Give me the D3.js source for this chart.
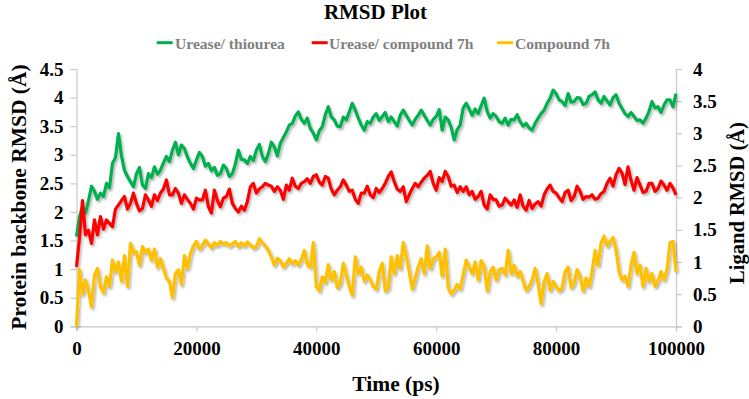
<!DOCTYPE html>
<html>
<head>
<meta charset="utf-8">
<script src="https://cdn.jsdelivr.net/npm/d3@7"></script>
<style>
  html, body { margin: 0; padding: 0; background: #fff; }
  svg { display: block; }
  text { font-family: "Liberation Serif", "Times New Roman", Times, serif; }
</style>
</head>
<body>
<div id="chart"></div>
<script>
// ---------- data ----------
const title = "RMSD Plot";
const xTitle = "Time (ps)";
const yLeftTitle = "Protein backbone RMSD (Å)";
const yRightTitle = "Ligand RMSD (Å)";
const seriesNames = ["Urease/ thiourea", "Urease/ compound 7h", "Compound 7h"];
const seriesColors = ["#00b050", "#ff0000", "#ffc000"];
const seriesAxis = ["left", "left", "right"];

const timeStep = 500; // ps between samples
const xTicks = [0, 20000, 40000, 60000, 80000, 100000];
const yLeftTicks = [0, 0.5, 1, 1.5, 2, 2.5, 3, 3.5, 4, 4.5];
const yRightTicks = [0, 0.5, 1, 1.5, 2, 2.5, 3, 3.5, 4];

// protein backbone RMSD, urease/thiourea (left axis)
const ureaseThiourea = [
  1.57, 1.92, 2.09, 1.98, 2.20, 2.45, 2.36, 2.22, 2.33, 2.27,
  2.50, 2.42, 2.85, 2.95, 3.37, 2.98, 2.73, 2.62, 2.53, 2.44,
  2.67, 2.78, 2.47, 2.41, 2.67, 2.60, 2.79, 2.66, 2.73, 2.86,
  2.97, 2.88, 3.08, 3.22, 3.00, 3.17, 3.11, 2.96, 2.85, 2.76,
  2.91, 3.04, 2.97, 2.80, 2.85, 2.72, 2.78, 2.64, 2.67, 2.82,
  2.76, 2.62, 2.67, 2.84, 3.08, 2.92, 2.91, 2.85, 2.97, 2.90,
  3.08, 3.18, 2.97, 2.88, 3.02, 3.22, 3.14, 2.98, 3.20, 3.30,
  3.40, 3.52, 3.55, 3.68, 3.75, 3.62, 3.55, 3.64, 3.46, 3.38,
  3.26, 3.42, 3.49, 3.70, 3.84, 3.66, 3.61, 3.50, 3.49, 3.66,
  3.61, 3.75, 3.90, 3.78, 3.64, 3.52, 3.43, 3.58, 3.55, 3.66,
  3.72, 3.60, 3.67, 3.74, 3.58, 3.66, 3.58, 3.50, 3.69, 3.78,
  3.69, 3.60, 3.52, 3.62, 3.69, 3.78, 3.69, 3.60, 3.52, 3.62,
  3.67, 3.79, 3.43, 3.66, 3.61, 3.48, 3.26, 3.44, 3.52, 3.82,
  3.90, 3.80, 3.69, 3.80, 3.72, 3.86, 3.99, 3.76, 3.64, 3.72,
  3.67, 3.58, 3.55, 3.64, 3.52, 3.62, 3.61, 3.70, 3.58, 3.50,
  3.55, 3.47, 3.43, 3.55, 3.64, 3.72, 3.78, 3.90, 3.99, 4.13,
  4.07, 3.96, 3.93, 3.86, 4.07, 3.92, 3.93, 4.00, 3.99, 3.88,
  3.90, 4.02, 4.05, 4.10, 3.96, 3.90, 4.02, 3.94, 3.87, 4.00,
  4.05, 3.90, 3.81, 3.72, 3.67, 3.74, 3.67, 3.60, 3.61, 3.55,
  3.64, 3.76, 3.93, 3.82, 3.84, 3.74, 3.87, 3.96, 3.96, 3.84,
  4.07
];
// protein backbone RMSD, urease/compound 7h (left axis)
const ureaseCompound7h = [
  1.04, 1.55, 2.20, 1.60, 1.68, 1.45, 1.86, 1.60, 1.92, 1.70,
  1.86, 1.80, 1.74, 2.05, 2.12, 2.20, 2.27, 2.05, 2.15, 2.33,
  2.15, 2.02, 2.06, 2.30, 2.21, 2.10, 2.30, 2.20, 2.33, 2.40,
  2.56, 2.30, 2.30, 2.41, 2.33, 2.15, 2.30, 2.22, 2.15, 2.05,
  2.24, 2.21, 2.21, 2.38, 2.09, 1.98, 2.38, 2.20, 2.09, 2.24,
  2.27, 2.40, 2.15, 2.06, 2.00, 2.10, 2.03, 2.18, 2.44, 2.50,
  2.33, 2.40, 2.44, 2.50, 2.47, 2.45, 2.36, 2.44, 2.38, 2.22,
  2.47, 2.38, 2.59, 2.45, 2.41, 2.50, 2.53, 2.58, 2.50, 2.62,
  2.65, 2.52, 2.47, 2.62, 2.59, 2.40, 2.30, 2.38, 2.44, 2.56,
  2.47, 2.36, 2.38, 2.22, 2.15, 2.33, 2.33, 2.45, 2.30, 2.25,
  2.41, 2.34, 2.41, 2.50, 2.62, 2.70, 2.53, 2.40, 2.36, 2.44,
  2.18, 2.30, 2.41, 2.50, 2.44, 2.52, 2.59, 2.64, 2.71, 2.50,
  2.38, 2.60, 2.53, 2.71, 2.62, 2.45, 2.47, 2.34, 2.44, 2.36,
  2.44, 2.30, 2.36, 2.22, 2.27, 2.36, 2.12, 2.05, 2.30, 2.22,
  2.21, 2.10, 2.12, 2.24, 2.18, 2.12, 2.21, 2.08, 2.30, 2.10,
  2.03, 2.20, 2.06, 2.14, 2.18, 2.10, 2.30, 2.40, 2.47, 2.36,
  2.33, 2.25, 2.18, 2.34, 2.38, 2.20, 2.27, 2.45, 2.36, 2.22,
  2.27, 2.26, 2.30, 2.22, 2.24, 2.32, 2.36, 2.50, 2.59, 2.45,
  2.65, 2.76, 2.68, 2.48, 2.79, 2.55, 2.38, 2.60, 2.47, 2.34,
  2.36, 2.50, 2.50, 2.36, 2.41, 2.54, 2.47, 2.38, 2.50, 2.42,
  2.30
];
// ligand RMSD, compound 7h (right axis)
const compound7h = [
  0.00, 0.88, 0.50, 0.72, 0.55, 0.30, 0.80, 0.90, 0.62, 0.52,
  0.77, 0.62, 1.03, 0.85, 1.00, 0.70, 1.10, 0.62, 1.29, 1.15,
  1.16, 0.95, 1.24, 1.15, 1.20, 1.03, 1.20, 0.92, 1.05, 0.90,
  0.75, 0.70, 0.45, 0.82, 0.88, 0.65, 1.10, 0.90, 1.13, 1.25,
  1.32, 1.20, 1.26, 1.34, 1.28, 1.22, 1.30, 1.26, 1.32, 1.28,
  1.30, 1.25, 1.28, 1.32, 1.24, 1.30, 1.25, 1.31, 1.27, 1.22,
  1.24, 1.36, 1.30, 1.25, 1.18, 1.08, 0.95, 1.06, 1.02, 0.92,
  0.98, 1.05, 0.97, 1.02, 0.95, 1.04, 1.18, 0.96, 0.92, 1.30,
  0.62, 0.55, 0.77, 0.68, 0.96, 0.72, 0.85, 0.60, 0.67, 0.98,
  0.80, 0.62, 0.48, 1.08, 0.82, 0.92, 0.70, 0.80, 0.72, 0.62,
  0.58, 0.85, 0.98, 0.55, 0.60, 1.08, 0.82, 1.10, 0.90, 1.30,
  1.10, 0.85, 0.58, 0.75, 0.93, 1.05, 0.82, 1.25, 0.90, 1.05,
  1.08, 1.15, 0.78, 1.20, 0.60, 0.50, 0.56, 0.65, 0.58, 0.80,
  1.03, 0.92, 0.82, 1.00, 0.72, 1.02, 0.93, 0.55, 0.85, 0.92,
  0.72, 0.88, 0.90, 0.80, 1.18, 0.82, 0.95, 0.78, 0.85, 0.70,
  0.56, 0.62, 0.72, 0.90, 0.67, 0.35, 0.70, 0.82, 0.56, 0.70,
  0.62, 0.55, 0.60, 0.85, 0.92, 0.60, 0.67, 0.88, 0.78, 0.55,
  0.75, 0.62, 0.85, 1.18, 0.95, 1.30, 1.40, 1.25, 1.32, 1.38,
  1.18, 0.85, 0.72, 0.78, 0.62, 0.95, 1.15, 0.82, 0.95, 0.62,
  0.90, 0.70, 0.82, 0.62, 0.70, 0.85, 0.72, 0.88, 1.30, 1.32,
  0.85
];
const seriesValues = [ureaseThiourea, ureaseCompound7h, compound7h];

// ---------- layout ----------
const W = 749, H = 399;
const plot = { left: 76.5, right: 676, top: 69, bottom: 326.3 };

const svg = d3.select("#chart").append("svg")
  .attr("width", W).attr("height", H)
  .attr("viewBox", `0 0 ${W} ${H}`);

const defs = svg.append("defs");
const f = defs.append("filter").attr("id", "shadow")
  .attr("x", "-5%").attr("y", "-5%").attr("width", "110%").attr("height", "120%");
f.append("feDropShadow").attr("dx", 1.5).attr("dy", 2).attr("stdDeviation", 1.2)
  .attr("flood-color", "#000").attr("flood-opacity", 0.3);

const x = d3.scaleLinear().domain([0, 100000]).range([plot.left, plot.right]);
const yL = d3.scaleLinear().domain([0, 4.5]).range([plot.bottom, plot.top]);
const yR = d3.scaleLinear().domain([0, 4]).range([plot.bottom, plot.top]);

const axisColor = "#c8c8c8";

function styleAxis(g) {
  g.attr("font-family", null).attr("font-size", null);
  g.select(".domain").attr("stroke", axisColor).attr("stroke-width", 1.2);
  g.selectAll(".tick line").attr("stroke", axisColor).attr("stroke-width", 1.2);
  g.selectAll(".tick text").attr("fill", "#000")
    .style("font-family", "'Liberation Serif', 'Times New Roman', serif")
    .style("font-weight", "bold").style("font-size", "19px");
}

// bottom axis
const gx = svg.append("g").attr("transform", `translate(0,${plot.bottom})`)
  .call(d3.axisBottom(x).tickValues(xTicks).tickFormat(d3.format("d"))
    .tickSizeOuter(0).tickSize(5).tickPadding(10));
styleAxis(gx);

// left axis
const gyl = svg.append("g").attr("transform", `translate(${plot.left},0)`)
  .call(d3.axisLeft(yL).tickValues(yLeftTicks).tickFormat(d => String(d))
    .tickSizeOuter(0).tickSize(6).tickPadding(7));
styleAxis(gyl);

// right axis
const gyr = svg.append("g").attr("transform", `translate(${plot.right},0)`)
  .call(d3.axisRight(yR).tickValues(yRightTicks).tickFormat(d => String(d))
    .tickSizeOuter(0).tickSize(6).tickPadding(11));
styleAxis(gyr);

// series lines
const lines = svg.append("g").attr("filter", "url(#shadow)");
seriesValues.forEach((vals, i) => {
  const ys = seriesAxis[i] === "left" ? yL : yR;
  const line = d3.line()
    .x((d, j) => x(j * timeStep))
    .y(d => ys(d));
  lines.append("path")
    .datum(vals)
    .attr("fill", "none")
    .attr("stroke", seriesColors[i])
    .attr("stroke-width", 3.2)
    .attr("stroke-linejoin", "round")
    .attr("d", line);
});

// title
svg.append("text")
  .attr("x", 375.5).attr("y", 18.5)
  .attr("text-anchor", "middle")
  .style("font-weight", "bold").style("font-size", "21px")
  .text(title);

// legend
const legendItems = [
  { lx: 156.7, tx: 175 },
  { lx: 311.7, tx: 329 },
  { lx: 497, tx: 515 }
];
const lg = svg.append("g");
seriesNames.forEach((name, i) => {
  lg.append("line")
    .attr("x1", legendItems[i].lx).attr("x2", legendItems[i].lx + 16)
    .attr("y1", 42.7).attr("y2", 42.7)
    .attr("stroke", seriesColors[i]).attr("stroke-width", 3);
  lg.append("text")
    .attr("x", legendItems[i].tx).attr("y", 48.5)
    .attr("fill", "#808080")
    .style("font-weight", "bold").style("font-size", "15.6px")
    .text(name);
});

// axis titles
svg.append("text")
  .attr("x", 396).attr("y", 391)
  .attr("text-anchor", "middle")
  .style("font-weight", "bold").style("font-size", "21.5px")
  .text(xTitle);

svg.append("text")
  .attr("transform", `translate(26,197) rotate(-90)`)
  .attr("text-anchor", "middle")
  .style("font-weight", "bold").style("font-size", "21.5px")
  .text(yLeftTitle);

svg.append("text")
  .attr("transform", `translate(744,203) rotate(-90)`)
  .attr("text-anchor", "middle")
  .style("font-weight", "bold").style("font-size", "20.5px")
  .text(yRightTitle);
</script>
</body>
</html>
